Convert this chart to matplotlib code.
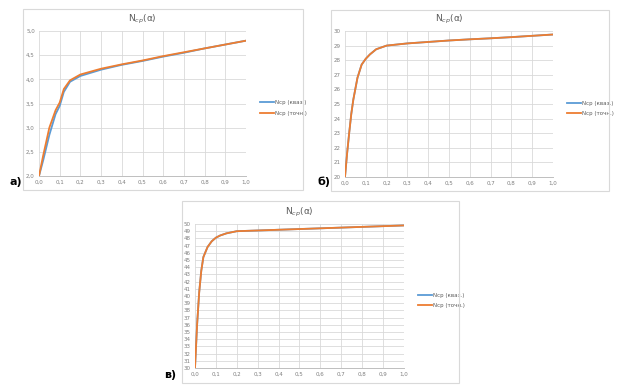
import matplotlib
matplotlib.use("Agg")
import matplotlib.pyplot as plt
from matplotlib.patches import Rectangle
from matplotlib.ticker import FuncFormatter

W, H = 622, 392

# panel a
alpha_a = [0.0, 0.02, 0.05, 0.08, 0.10, 0.12, 0.15, 0.20, 0.30, 0.40, 0.50, 0.60, 0.70, 0.80, 0.90, 1.0]
ncp_kvaz_a = [2.0, 2.32, 2.85, 3.28, 3.45, 3.74, 3.95, 4.07, 4.20, 4.30, 4.38, 4.47, 4.55, 4.64, 4.72, 4.80]
ncp_tochn_a = [2.0, 2.42, 3.0, 3.36, 3.52, 3.80, 3.98, 4.10, 4.22, 4.31, 4.39, 4.48, 4.56, 4.64, 4.72, 4.80]

# panel б
alpha_b = [0.0, 0.01, 0.02, 0.03, 0.04, 0.06, 0.08, 0.10, 0.12, 0.15, 0.20, 0.30, 0.40, 0.50, 0.60, 0.70, 0.80, 0.90, 1.0]
ncp_kvaz_b = [20.0, 21.6, 23.0, 24.3, 25.3, 26.8, 27.7, 28.1, 28.4, 28.75, 29.0, 29.15, 29.25, 29.35, 29.43, 29.5, 29.58, 29.67, 29.76]
ncp_tochn_b = [20.0, 21.6, 23.0, 24.3, 25.3, 26.8, 27.7, 28.1, 28.4, 28.75, 29.0, 29.15, 29.25, 29.35, 29.43, 29.5, 29.58, 29.67, 29.76]

# panel в
alpha_c = [0.0, 0.01, 0.02, 0.03, 0.04, 0.06, 0.08, 0.10, 0.12, 0.15, 0.20, 0.30, 0.40, 0.50, 0.60, 0.70, 0.80, 0.90, 1.0]
ncp_kvaz_c = [30.0, 36.0, 40.5, 43.5, 45.4, 46.8, 47.6, 48.1, 48.4, 48.7, 49.0, 49.1, 49.2, 49.3, 49.4, 49.5, 49.6, 49.7, 49.8]
ncp_tochn_c = [30.0, 36.0, 40.5, 43.5, 45.4, 46.8, 47.6, 48.1, 48.4, 48.7, 49.0, 49.1, 49.2, 49.3, 49.4, 49.5, 49.6, 49.7, 49.8]

x_ticks = [i / 10 for i in range(11)]
title = "N$_{cp}$(α)"
labels = ["Ncp (кваз.)", "Ncp (точн.)"]

BLUE = "#5B9BD5"
ORANGE = "#ED7D31"
GRID = "#D9D9D9"
TXT = "#7F7F7F"

fig = plt.figure(figsize=(W / 100, H / 100), dpi=100)
fig.patch.set_facecolor("white")


def box(l, t, r, b):
    return [l / W, 1 - b / H, (r - l) / W, (b - t) / H]


def frame(l, t, r, b):
    fig.patches.append(Rectangle((l / W, 1 - b / H), (r - l) / W, (b - t) / H,
                                 transform=fig.transFigure, fill=False,
                                 edgecolor="#D9D9D9", lw=0.8))


def comma(v, pos, fmt):
    return (fmt % v).replace(".", ",")


def panel(rect, frame_rect, xs, y1, y2, ylim, yticks, yfmt, tag, tag_xy, leg_xy):
    frame(*frame_rect)
    ax = fig.add_axes(box(*rect))
    ax.plot(xs, y1, color=BLUE, lw=1.3, label=labels[0])
    ax.plot(xs, y2, color=ORANGE, lw=1.3, label=labels[1])
    ax.set_xlim(0, 1)
    ax.set_ylim(*ylim)
    ax.set_xticks(x_ticks)
    ax.set_yticks(yticks)
    ax.xaxis.set_major_formatter(FuncFormatter(lambda v, p: comma(v, p, "%.1f")))
    ax.yaxis.set_major_formatter(FuncFormatter(lambda v, p: comma(v, p, yfmt)))
    ax.grid(True, color=GRID, lw=0.6)
    ax.set_axisbelow(True)
    for s in ["top", "right", "left"]:
        ax.spines[s].set_visible(False)
    ax.spines["bottom"].set_color("#BFBFBF")
    ax.spines["bottom"].set_linewidth(0.7)
    ax.tick_params(length=0, labelsize=4, colors=TXT, pad=3)
    ax.set_title(title, color="#595959", fontsize=6.5, pad=7)
    leg = ax.legend(loc="center left", bbox_to_anchor=leg_xy, frameon=False,
                    fontsize=4, handlelength=2.4, handletextpad=0.3, labelspacing=1.0)
    for t_ in leg.get_texts():
        t_.set_color("#595959")
    fig.text(tag_xy[0] / W, 1 - tag_xy[1] / H, tag, fontsize=8, fontweight="bold",
             ha="left", va="center", color="black")
    return ax


panel((39, 31, 246, 176), (23, 9, 303, 190), alpha_a, ncp_kvaz_a, ncp_tochn_a,
      (2.0, 5.0), [2.0 + 0.5 * i for i in range(7)], "%.1f", "а)", (9, 182), (1.045, 0.47))
panel((345, 31, 553, 177), (331, 10, 609, 191), alpha_b, ncp_kvaz_b, ncp_tochn_b,
      (20, 30), list(range(20, 31)), "%d", "б)", (317, 182), (1.045, 0.47))
panel((195, 224, 404, 368), (182, 201, 459, 383), alpha_c, ncp_kvaz_c, ncp_tochn_c,
      (30, 50), list(range(30, 51)), "%d", "в)", (164, 375), (1.045, 0.47))

fig.savefig("out.png", dpi=100, facecolor="white")
